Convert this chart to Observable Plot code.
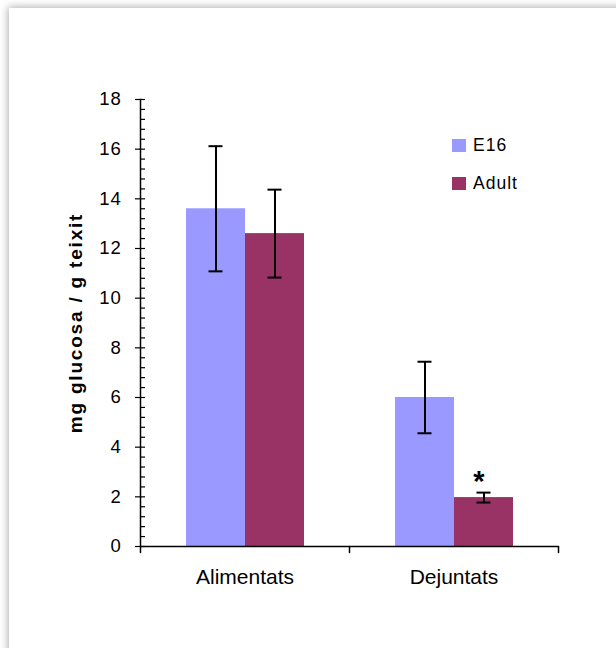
<!DOCTYPE html>
<html>
<head>
<meta charset="utf-8">
<script src="https://cdn.jsdelivr.net/npm/d3@7"></script>
<script src="https://cdn.jsdelivr.net/npm/@observablehq/plot@0.6"></script>
<style>
  html, body { margin: 0; padding: 0; background: #fff; overflow: hidden; width: 616px; height: 648px; }
  #panel { position: absolute; left: 9px; top: 8px; width: 700px; height: 700px; background: #fff;
           box-shadow: 0 0 8px 1px rgba(0,0,0,0.32); }
  #chart { position: absolute; left: 0; top: 0; }
  .leg { position: absolute; font-family: 'Liberation Sans', Arial, sans-serif; font-size: 17.5px; letter-spacing: 1px; color: #000; display: flex; align-items: center; }
  .leg span.sw { display: inline-block; width: 14px; height: 13px; margin-right: 7px; }
</style>
</head>
<body>
<div id="panel"></div>
<div id="chart"></div>
<script>
// ---- data ----
const groups = ["Alimentats", "Dejuntats"];
const series = ["E16", "Adult"];
const colors = ["#9999FF", "#993366"];
const e16Mean = [13.6, 6.0];
const e16Err = [2.52, 1.44];
const adultMean = [12.6, 1.97];
const adultErr = [1.77, 0.2];
const adultSignif = ["", "*"];
const yTicks = [0, 2, 4, 6, 8, 10, 12, 14, 16, 18];
const yLabel = "mg glucosa / g teixit";

const yMinor = d3.range(0, 18.001, 0.4).filter(v => Math.abs(v / 2 - Math.round(v / 2)) > 1e-6);

const data = groups.flatMap((g, i) => [
  {group: g, series: "E16", mean: e16Mean[i], err: e16Err[i], sig: ""},
  {group: g, series: "Adult", mean: adultMean[i], err: adultErr[i], sig: adultSignif[i]}
]);

const tickShape = {draw(context, l) { context.moveTo(0, 0); context.lineTo(0, -l); }};

const chart = Plot.plot({
  width: 616,
  height: 648,
  marginTop: 99,
  marginBottom: 102,
  marginLeft: 140,
  marginRight: 58,
  style: {fontFamily: "'Liberation Sans', Arial, sans-serif", background: "transparent", color: "#000"},
  fx: {domain: groups, padding: 0, label: null},
  x: {domain: series, paddingInner: 0, paddingOuter: 0.742, axis: null},
  y: {domain: [0, 18]},
  color: {domain: series, range: colors},
  marks: [
    Plot.barY(data, {fx: "group", x: "series", y: "mean", fill: "series"}),
    Plot.ruleX(data, {fx: "group", x: "series", y1: d => d.mean - d.err, y2: d => d.mean + d.err, stroke: "#000", strokeWidth: 2}),
    Plot.tickY(data, {fx: "group", x: "series", y: d => d.mean + d.err, insetLeft: 22.5, insetRight: 22.5, stroke: "#000", strokeWidth: 2}),
    Plot.tickY(data, {fx: "group", x: "series", y: d => d.mean - d.err, insetLeft: 22.5, insetRight: 22.5, stroke: "#000", strokeWidth: 2}),
    Plot.text(data.filter(d => d.sig), {fx: "group", x: "series", y: d => d.mean + d.err, text: "sig", dy: -11, dx: -5, fontSize: 29, fontWeight: "bold"}),
    Plot.ruleY([0], {stroke: "#000", strokeWidth: 1.5}),
    Plot.frame({anchor: "left", facetAnchor: "left", stroke: "#000", strokeWidth: 1.5}),
    Plot.vector([0], {y: d => d, frameAnchor: "left", facetAnchor: "left", length: 6, rotate: 180, anchor: "start", shape: tickShape, stroke: "#000", strokeWidth: 1.5}),
    Plot.vector([0], {y: d => d, frameAnchor: "right", length: 6, rotate: 180, anchor: "start", shape: tickShape, stroke: "#000", strokeWidth: 1.5}),
    Plot.axisY({ticks: yTicks, tickSize: 10, dx: 5, tickFormat: () => "", label: null, strokeWidth: 1.2}),
    Plot.axisY({ticks: yMinor, tickSize: 5, dx: 5, tickFormat: () => "", label: null, strokeWidth: 1.2}),
    Plot.axisY({ticks: yTicks, tickSize: 0, tickPadding: 19, fontSize: 18.5, label: null}),
    Plot.axisFx({anchor: "bottom", tickSize: 0, tickPadding: 23, fontSize: 21, label: null}),
    Plot.text([yLabel], {frameAnchor: "left", facetAnchor: "left", rotate: -90, dx: -65, textAnchor: "middle", fontSize: 19, fontWeight: "bold"})
  ]
});
document.getElementById("chart").appendChild(chart);

// widen glyph spacing slightly to match the reference rendering
d3.select(chart).selectAll("text")
  .filter(function() { return this.textContent === yLabel; })
  .style("letter-spacing", "1.8px");
d3.select(chart).selectAll("g[aria-label='y-axis tick label'] text")
  .style("letter-spacing", "0.8px");

// legend
const legTops = [139, 177];
series.forEach((s, i) => {
  const div = document.createElement("div");
  div.className = "leg";
  div.style.left = "452px";
  div.style.top = (legTops[i] - 3) + "px";
  div.style.height = "19px";
  div.innerHTML = `<span class="sw" style="background:${colors[i]}"></span><span>${s}</span>`;
  document.body.appendChild(div);
});
</script>
</body>
</html>
